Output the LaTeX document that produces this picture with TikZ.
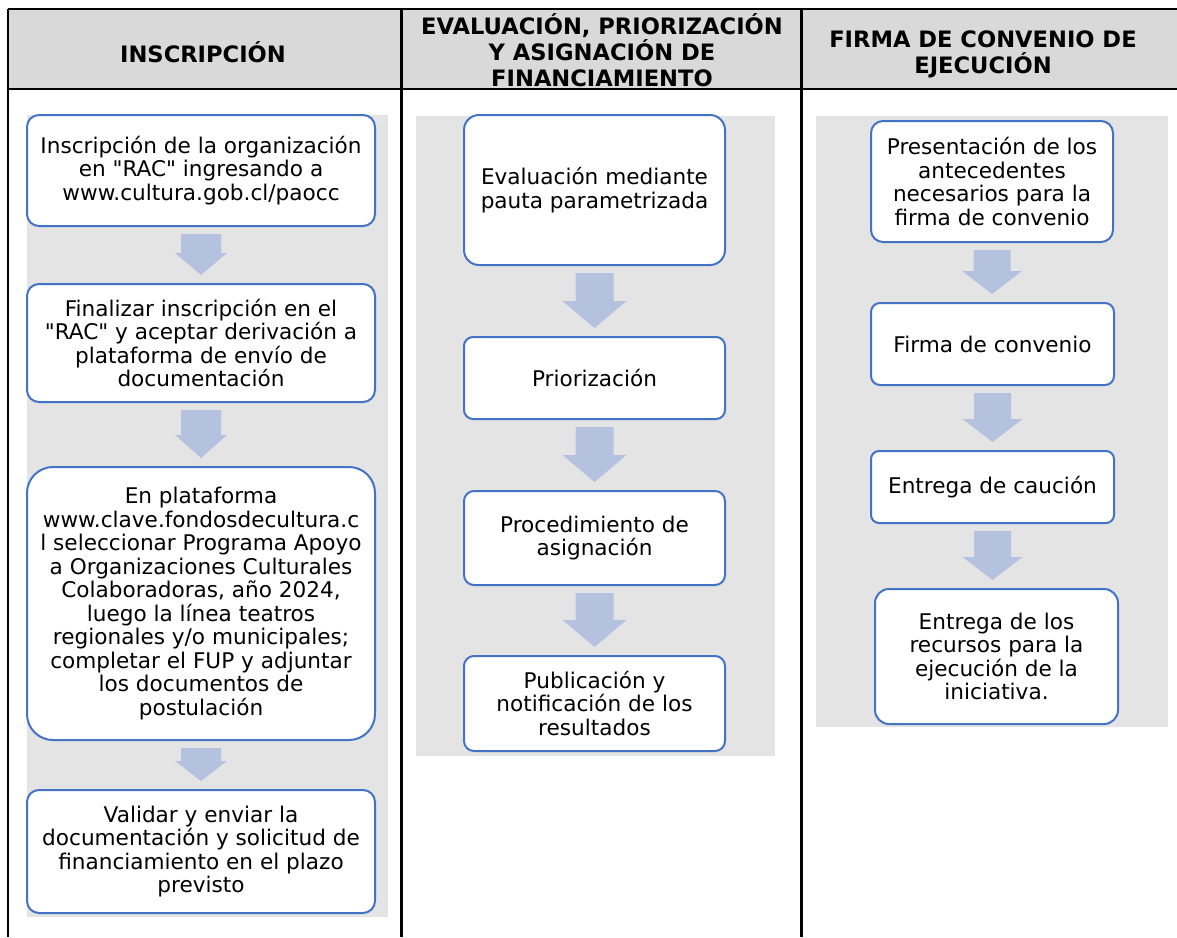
\documentclass[tikz,border=0pt]{standalone}
\usepackage{fontspec}
\setmainfont{DejaVu Sans}[Ligatures=TeXOff]
\usetikzlibrary{calc}
\definecolor{boxblue}{HTML}{4472C4}
\definecolor{arrowfill}{HTML}{B4C2E0}
\definecolor{panelgray}{HTML}{E4E4E4}
\definecolor{headgray}{HTML}{D9D9D9}
\tikzset{
  stepbox/.style={draw=boxblue, line width=2pt, fill=white, align=center, inner sep=0pt,
    font=\fontsize{21.6}{23.5}\selectfont},
  headtext/.style={align=center, inner sep=0pt, font=\bfseries\fontsize{22.6}{26}\selectfont},
  panel/.style={fill=panelgray},
  rule/.style={line width=2.5pt, draw=black},
}
% from, to, shaft half width, head half width, head length
\newcommand{\flowarrow}[5]{%
  \fill[arrowfill] let \p1=(#1.south), \p2=(#2.north) in
    (\x1-#3pt,\y1-7pt) -- (\x1+#3pt,\y1-7pt) -- (\x1+#3pt,\y2+8pt+#5pt)
    -- (\x1+#4pt,\y2+8pt+#5pt) -- (\x1,\y2+8pt) -- (\x1-#4pt,\y2+8pt+#5pt)
    -- (\x1-#3pt,\y2+8pt+#5pt) -- cycle;
}
\begin{document}
\begin{tikzpicture}[x=1pt,y=-1pt]
\useasboundingbox (0,0) rectangle (1177,937);
\fill[white] (0,0) rectangle (1177,937);
% header band
\fill[headgray] (8,9) rectangle (1177,89);
% panels
\fill[panelgray] (27,115) rectangle (388,917);
\fill[panelgray] (416,116) rectangle (775,756);
\fill[panelgray] (816,116) rectangle (1168,727);
% table rules
\draw[rule] (8,9) -- (1177,9);
\draw[rule] (8,89) -- (1177,89);
\draw[rule] (8,9) -- (8,937);
\draw[rule] (401.5,9) -- (401.5,937);
\draw[rule] (801.5,9) -- (801.5,937);
% headers
\node[headtext] (h1) at (203,52) {INSCRIPCIÓN};
\node[headtext] (h2) at (602,50) {EVALUACIÓN, PRIORIZACIÓN\\Y ASIGNACIÓN DE\\FINANCIAMIENTO};
\node[headtext] (h3) at (983,54) {FIRMA DE CONVENIO DE\\EJECUCIÓN};
% column 1
\node[stepbox, minimum width=348pt, minimum height=111pt, rounded corners=12pt] (a1) at (201,170.5)
  {Inscripción de la organización\\en "RAC" ingresando a\\www.cultura.gob.cl/paocc};
\node[stepbox, minimum width=348pt, minimum height=118pt, rounded corners=12pt] (a2) at (201,343)
  {Finalizar inscripción en el\\"RAC" y aceptar derivación a\\plataforma de envío de\\documentación};
\node[stepbox, minimum width=348pt, minimum height=273pt, rounded corners=26pt] (a3) at (201,603.5)
  {En plataforma\\www.clave.fondosdecultura.c\\l seleccionar Programa Apoyo\\a Organizaciones Culturales\\Colaboradoras, año 2024,\\luego la línea teatros\\regionales y/o municipales;\\completar el FUP y adjuntar\\los documentos de\\postulación};
\node[stepbox, minimum width=348pt, minimum height=123pt, rounded corners=12pt] (a4) at (201,851.5)
  {Validar y enviar la\\documentación y solicitud de\\financiamiento en el plazo\\previsto};
\flowarrow{a1}{a2}{20}{26}{22}
\flowarrow{a2}{a3}{20}{26}{23}
\flowarrow{a3}{a4}{20}{26}{20}
% column 2
\node[stepbox, minimum width=261pt, minimum height=150pt, rounded corners=15pt] (b1) at (594.5,190)
  {Evaluación mediante\\pauta parametrizada};
\node[stepbox, minimum width=261pt, minimum height=82pt, rounded corners=9pt] (b2) at (594.5,378)
  {Priorización};
\node[stepbox, minimum width=261pt, minimum height=94pt, rounded corners=10pt] (b3) at (594.5,538)
  {Procedimiento de\\asignación};
\node[stepbox, minimum width=261pt, minimum height=95pt, rounded corners=10pt] (b4) at (594.5,703.5)
  {Publicación y\\notificación de los\\resultados};
\flowarrow{b1}{b2}{19}{32}{27}
\flowarrow{b2}{b3}{19}{32}{27}
\flowarrow{b3}{b4}{19}{32}{27}
% column 3
\node[stepbox, minimum width=242pt, minimum height=121pt, rounded corners=12pt] (c1) at (992,181.5)
  {Presentación de los\\antecedentes\\necesarios para la\\firma de convenio};
\node[stepbox, minimum width=243pt, minimum height=82pt, rounded corners=9pt] (c2) at (992.5,344)
  {Firma de convenio};
\node[stepbox, minimum width=243pt, minimum height=72pt, rounded corners=8pt] (c3) at (992.5,487)
  {Entrega de caución};
\node[stepbox, minimum width=243pt, minimum height=135pt, rounded corners=14pt] (c4) at (996.5,656.5)
  {Entrega de los\\recursos para la\\ejecución de la\\iniciativa.};
\flowarrow{c1}{c2}{18.5}{30}{23}
\flowarrow{c2}{c3}{18.5}{30}{23}
\flowarrow{c3}{c4}{18.5}{30}{23}
\end{tikzpicture}
\end{document}
